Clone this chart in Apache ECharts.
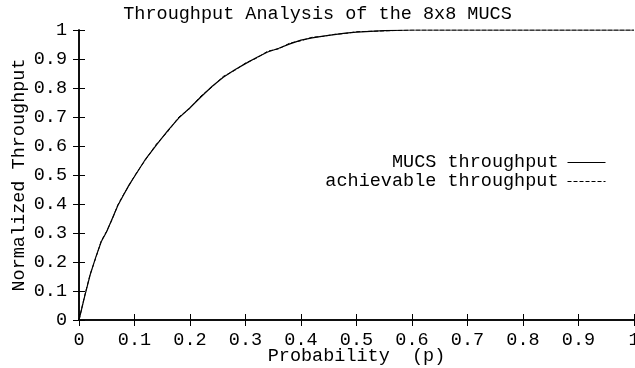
<!DOCTYPE html>
<html>
<head>
<meta charset="utf-8">
<script src="https://cdn.jsdelivr.net/npm/echarts@6/dist/echarts.min.js"></script>
<style>html,body{margin:0;padding:0;background:#fff}#c{width:635px;height:368px}</style>
</head>
<body>
<div id="c"></div>
<script>
var titleText = "Throughput Analysis of the 8x8 MUCS";
var xName = "Probability  (p)";
var yName = "Normalized Throughput";
var seriesNames = ["MUCS throughput", "achievable throughput"];
var pValues = [0, 0.01, 0.02, 0.03, 0.04, 0.05, 0.06, 0.07, 0.08, 0.09, 0.10, 0.12, 0.14, 0.16, 0.18, 0.20, 0.22, 0.24, 0.26, 0.28, 0.30, 0.32, 0.34, 0.36, 0.38, 0.40, 0.42, 0.44, 0.46, 0.48, 0.50, 0.55, 0.60, 0.65, 0.70, 0.80, 0.90, 1.0];
var mucsValues = [0, 0.08, 0.155, 0.215, 0.27, 0.305, 0.35, 0.395, 0.43, 0.465, 0.495, 0.555, 0.605, 0.653, 0.697, 0.732, 0.770, 0.806, 0.837, 0.862, 0.884, 0.905, 0.924, 0.937, 0.952, 0.965, 0.973, 0.979, 0.984, 0.989, 0.993, 0.998, 1.0, 1.0, 1.0, 1.0, 1.0, 1.0];
var achievableValues = [0, 0.082, 0.157, 0.213, 0.272, 0.307, 0.348, 0.397, 0.432, 0.463, 0.497, 0.553, 0.608, 0.650, 0.700, 0.730, 0.773, 0.804, 0.840, 0.860, 0.886, 0.903, 0.927, 0.935, 0.955, 0.963, 0.975, 0.978, 0.985, 0.988, 0.994, 0.997, 1.0, 1.0, 1.0, 1.0, 1.0, 1.0];

var FONT = "Liberation Mono";
var FS = 18.5;

function pairs(xs, ys) { return xs.map(function (x, i) { return [x, ys[i]]; }); }
function fmt(v) { return String(Math.round(v * 10) / 10); }

var chart = echarts.init(document.getElementById('c'), null, {renderer: 'canvas'});
var axisCommon = {
  type: 'value', min: 0, max: 1, interval: 0.1,
  axisLine: {show: true, lineStyle: {color: '#000', width: 1.5}},
  axisTick: {show: true, inside: true, length: 6, lineStyle: {color: '#000', width: 1}},
  splitLine: {show: false}
};
var legendText = {fontFamily: FONT, fontSize: FS, color: '#000', padding: [0, 4, 0, 0]};
chart.setOption({
  animation: false,
  backgroundColor: '#fff',
  title: {
    text: titleText, left: 'center', top: 0,
    textStyle: {fontFamily: FONT, fontSize: FS, fontWeight: 'normal', color: '#000'}
  },
  grid: {left: 79, right: 1, top: 30, bottom: 48, containLabel: false, outerBoundsMode: 'none'},
  legend: [{
    data: [seriesNames[0]], orient: 'vertical', right: 24, top: 148, align: 'right',
    itemWidth: 38, itemHeight: 10, itemGap: 4, textStyle: legendText,
    itemStyle: {opacity: 0}, lineStyle: {width: 1}
  }, {
    data: [seriesNames[1]], orient: 'vertical', right: 24, top: 167, align: 'right',
    itemWidth: 38, itemHeight: 10, itemGap: 4, textStyle: legendText,
    itemStyle: {opacity: 0}, lineStyle: {width: 1}
  }],
  xAxis: [
    Object.assign({}, axisCommon, {
      position: 'bottom',
      name: xName, nameLocation: 'middle', nameGap: 27, nameMoveOverlap: false,
      nameTextStyle: {fontFamily: FONT, fontSize: FS, color: '#000'},
      axisLabel: {fontFamily: FONT, fontSize: FS, color: '#000', margin: 11,
        formatter: function (v) { return fmt(v); }, showMinLabel: true, showMaxLabel: true}
    }),
    Object.assign({}, axisCommon, {position: 'top', axisLabel: {show: false}})
  ],
  yAxis: [
    Object.assign({}, axisCommon, {
      position: 'left',
      name: yName, nameLocation: 'middle', nameGap: 50, nameMoveOverlap: false,
      nameTextStyle: {fontFamily: FONT, fontSize: FS, color: '#000'},
      axisLabel: {fontFamily: FONT, fontSize: FS, color: '#000', margin: 12,
        formatter: function (v) { return fmt(v); }, showMinLabel: true, showMaxLabel: true}
    }),
    Object.assign({}, axisCommon, {position: 'right', axisLabel: {show: false}})
  ],
  series: [{
    name: seriesNames[0], type: 'line', data: pairs(pValues, mucsValues),
    showSymbol: false, symbol: 'none', smooth: false,
    lineStyle: {color: '#000', width: 1.2, type: 'solid'}, itemStyle: {color: '#000'}
  }, {
    name: seriesNames[1], type: 'line', data: pairs(pValues, achievableValues),
    showSymbol: false, symbol: 'none', smooth: false,
    lineStyle: {color: '#000', width: 1, type: [4, 2]}, itemStyle: {color: '#000'}
  }]
});
</script>
</body>
</html>
